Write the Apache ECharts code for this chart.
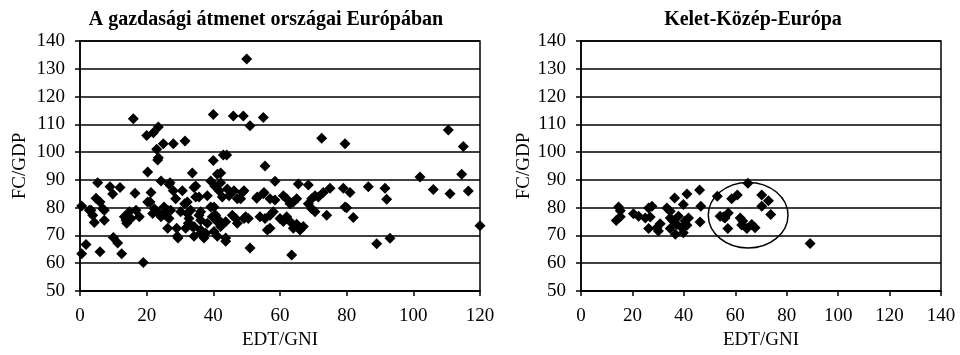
<!DOCTYPE html>
<html>
<head>
<meta charset="utf-8">
<script src="https://cdn.jsdelivr.net/npm/echarts@6/dist/echarts.min.js"></script>
<style>
  html, body { margin: 0; padding: 0; background: #fff; }
  #chart { width: 960px; height: 355px; }
</style>
</head>
<body>
<div id="chart"></div>
<script>
// chart titles and axis names
const titles = ['A gazdasági átmenet országai Európában', 'Kelet-Közép-Európa'];
const xName = 'EDT/GNI';
const yName = 'FC/GDP';

// left panel: transition economies in Europe [EDT/GNI, FC/GDP]
const transitionPoints = [
  [16, 112], [20, 106], [22, 107], [23.5, 109], [23, 101], [23.5, 98], [25, 103], [28, 103],
  [31.5, 104], [40, 113.5], [40, 97], [43, 99], [44, 99], [46, 113], [49, 113], [50, 133.5],
  [51, 109.5], [55, 112.5], [55.5, 95], [72.5, 105], [79.5, 103], [110.5, 108], [115, 102],
  [102, 91], [114.5, 92], [79, 87], [81, 85.5], [86.5, 87.5], [91.5, 87], [92, 83], [106, 86.5],
  [111, 85], [116.5, 86], [80, 80], [82, 76.5], [89, 67], [93, 69], [120, 73.5], [63.5, 63],
  [51, 65.5],
  [58.5, 89.5], [65.5, 88.5], [68.5, 88.2], [75, 87], [53, 83.4], [55, 85], [57, 83.2],
  [58.5, 82.8], [61, 84.3], [62, 83.2], [64, 82], [65, 83.2], [63, 81.4], [69.5, 83.2],
  [70.5, 84.3], [71.5, 83.8], [73, 85.5], [68.5, 81.4], [69.5, 79.6], [70.5, 78.5], [74, 77.3],
  [79.5, 80.2], [54, 76.7], [55.5, 76.1], [57, 77.3], [58, 78.5], [57, 72.6], [60, 76.1],
  [61, 75], [62, 76.7], [63, 75], [64, 72.6], [65, 74], [66, 72], [67, 73.2], [50.5, 76.1],
  [0.5, 80.6], [0.5, 63.4], [1.8, 66.7], [2.8, 79.1], [3.8, 77.3], [4.3, 74.7], [5.3, 89],
  [4.8, 83.4], [6, 82], [6.8, 79.6], [7.3, 75.5], [6, 64.1], [9, 87.5], [9.8, 84.9], [12, 87.3],
  [10, 69.3], [11.3, 67.3], [12.5, 63.4], [13.3, 76.7], [14, 74.4], [15.3, 76.1], [16.5, 85.2],
  [16.8, 79.1], [17.8, 76.7], [19, 60.3], [20.3, 92.8], [21.3, 85.5], [21, 82], [21.8, 77.9],
  [22.3, 79.6], [23.3, 97.2], [24.3, 89.6], [25.2, 80.2], [24.3, 76.7], [26.3, 79.1], [27, 89],
  [28, 86.1], [26.7, 76.1], [29, 72.6], [29.4, 69.1], [30.7, 86.1], [31.4, 81.4], [32.2, 77.9],
  [32.5, 74.4], [33.7, 92.5], [33.7, 73.2], [34.7, 87.8], [34.7, 83.8], [35.7, 77.3], [36.2, 72],
  [37.7, 70.8], [38.2, 84.3], [39.2, 89.6], [40.2, 80.2], [40.4, 87.8], [41.2, 92], [42.2, 89],
  [41.2, 74.9], [42.7, 83.8], [43.7, 67.9], [41.2, 69.7], [44.7, 84.3], [46.2, 86.1], [47.2, 83.2],
  [48.7, 85.5], [46.7, 76.1], [49.2, 76.1], [53.2, 83.8], [55.2, 85.5], [56.2, 72],
  [42.2, 92.5], [26.7, 88.4], [34.2, 87.3], [28.7, 83.2], [32.2, 82], [35.7, 83.8], [41.7, 86.1],
  [44.2, 86.7], [49.2, 86.1], [48.2, 83.2], [27.2, 79.1], [30.2, 78.5], [33.2, 79.1], [36.2, 78.5],
  [39.2, 80.2], [40.7, 77.3], [45.7, 77.3], [49.7, 76.7], [47.2, 74.4], [25.2, 77.9], [26.3, 72.6],
  [29.2, 69.7], [31.7, 72.6], [34.2, 73.2], [36.2, 70.8], [38.2, 74.4], [40.2, 71.4], [42.2, 73.2],
  [43.7, 69.1], [37.2, 69.1], [34.2, 69.7], [32.7, 76.1], [36.2, 75.5], [39.7, 76.7], [41.7, 75.5],
  [43.7, 74.9], [23.3, 78.5], [25.7, 77.3], [14.8, 78.5], [13.8, 75.5], [20.3, 82], [3.3, 79.1],
  [7.3, 79.1]
];

// right panel: Central-Eastern Europe
const cePoints = [
  [14.6, 80.2], [15.3, 78.9], [13.7, 75.4], [15.3, 76.7], [20.4, 77.8], [22.4, 76.9], [25, 76.3],
  [26.3, 79.9], [27.6, 80.5], [26.9, 76.6], [26.3, 72.5], [29.5, 72.8], [30.8, 74.2], [30.1, 71.6],
  [33.4, 79.9], [34.7, 78.7], [36.4, 83.5], [34.7, 76.3], [35.9, 75.2], [34.7, 72.5], [37.3, 73.9],
  [36.7, 70.4], [37.9, 76.9], [39.8, 81.1], [41.2, 84.9], [40.5, 75.2], [39.2, 72.8], [39.8, 71],
  [41.8, 76.3], [41.2, 73.7], [46.1, 86.4], [46.6, 80.5], [46.3, 74.8], [53, 84.1], [54.1, 76.9],
  [55.4, 76.6], [57.3, 78.1], [57.1, 72.5], [56, 76.3], [58.6, 83.2], [60.8, 84.6], [61.9, 76.3],
  [62.9, 75.2], [62.5, 73.8], [64.5, 72.5], [66.4, 73.9], [67.7, 72.8], [64.9, 88.8], [70.3, 84.6],
  [70.3, 80.5], [72.9, 82.5], [73.8, 77.5], [89.1, 67.1]
];

// highlighted group: [centre x, centre y], [half width, half height] in data units
const highlight = [[65, 77.3], [15.5, 11.8]];

const font = 'Liberation Serif, Times New Roman, serif';

const chart = echarts.init(document.getElementById('chart'));

function xAxisFor(gridIndex, max) {
  return {
    gridIndex: gridIndex,
    type: 'value',
    min: 0,
    max: max,
    interval: 20,
    name: xName,
    nameLocation: 'middle',
    nameGap: 40,
    nameTextStyle: { fontFamily: font, fontSize: 19, color: '#000' },
    axisLine: { lineStyle: { color: '#000', width: 1.5 } },
    axisTick: { show: true, length: 5, lineStyle: { color: '#000', width: 1.5 } },
    axisLabel: { fontFamily: font, fontSize: 19, color: '#000', margin: 16 },
    splitLine: { show: false }
  };
}

function yAxisFor(gridIndex, gap) {
  return {
    gridIndex: gridIndex,
    type: 'value',
    min: 50,
    max: 140,
    interval: 10,
    name: yName,
    nameLocation: 'middle',
    nameGap: gap,
    nameTextStyle: { fontFamily: font, fontSize: 19, color: '#000' },
    axisLine: { show: true, lineStyle: { color: '#000', width: 1.5 } },
    axisTick: { show: true, length: 5, lineStyle: { color: '#000', width: 1.5 } },
    axisLabel: { fontFamily: font, fontSize: 19, color: '#000', margin: 15 },
    splitLine: { show: true, lineStyle: { color: '#000', width: 1.5 } }
  };
}

const titleStyle = { fontFamily: font, fontSize: 20, fontWeight: 'bold', color: '#000' };

const option = {
  animation: false,
  backgroundColor: '#fff',
  title: [
    { text: titles[0], left: 261, top: 5, textAlign: 'center', textStyle: titleStyle },
    { text: titles[1], left: 748, top: 5, textAlign: 'center', textStyle: titleStyle }
  ],
  grid: [
    { left: 80, right: 480, top: 41, bottom: 61, show: true, borderColor: '#000', borderWidth: 1.5 },
    { left: 581, right: 19, top: 41, bottom: 61, show: true, borderColor: '#000', borderWidth: 1.5 }
  ],
  xAxis: [xAxisFor(0, 120), xAxisFor(1, 140)],
  yAxis: [yAxisFor(0, 50), yAxisFor(1, 47)],
  series: [
    {
      type: 'scatter', xAxisIndex: 0, yAxisIndex: 0,
      symbol: 'diamond', symbolSize: 11,
      itemStyle: { color: '#000', opacity: 1 },
      data: transitionPoints
    },
    {
      type: 'scatter', xAxisIndex: 1, yAxisIndex: 1,
      symbol: 'diamond', symbolSize: 11,
      itemStyle: { color: '#000', opacity: 1 },
      data: cePoints
    },
    {
      type: 'custom', xAxisIndex: 1, yAxisIndex: 1,
      data: [[highlight[0][0], highlight[0][1], highlight[1][0], highlight[1][1]]],
      renderItem: function (params, api) {
        const c = api.coord([api.value(0), api.value(1)]);
        const s = api.size([api.value(2), api.value(3)]);
        return {
          type: 'ellipse',
          shape: { cx: c[0], cy: c[1], rx: s[0], ry: s[1] },
          style: { fill: 'none', stroke: '#000', lineWidth: 1.5 }
        };
      },
      z: 3
    }
  ]
};

chart.setOption(option);
</script>
</body>
</html>
